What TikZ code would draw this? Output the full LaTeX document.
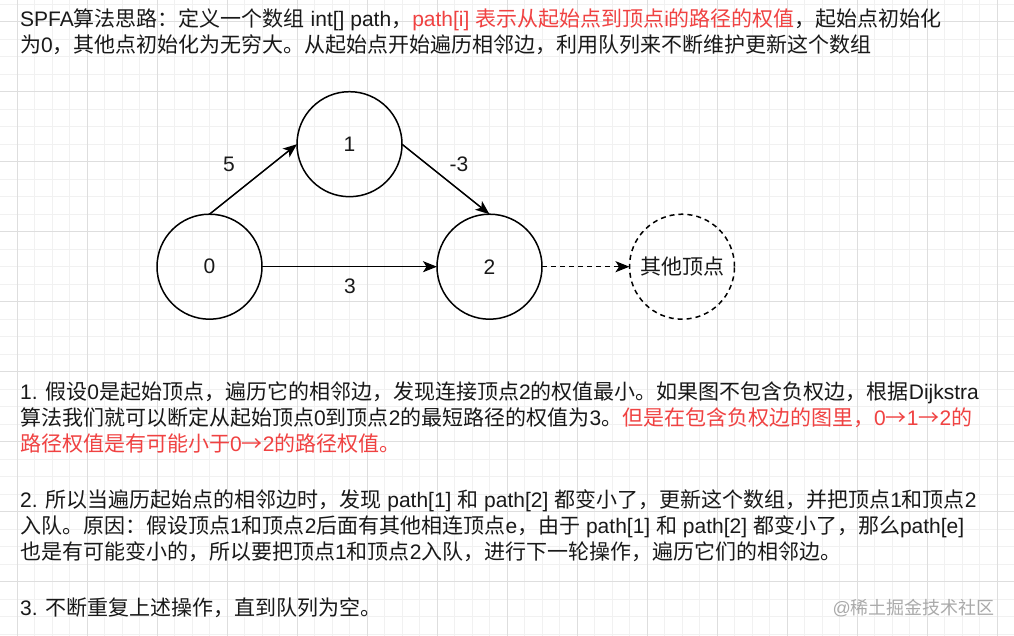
\documentclass[tikz,border=0pt]{standalone}
\usepackage{fontspec}
\setmainfont{Liberation Sans}
\newfontfamily\cjkfont{Noto Sans CJK SC}
\usetikzlibrary{arrows.meta}
\XeTeXinterchartokenstate=1
\newXeTeXintercharclass\mycjk
\newcount\cjkc
\def\setcjkrange#1#2{\cjkc=#1\relax\loop\XeTeXcharclass\cjkc=\mycjk\relax\ifnum\cjkc<#2\relax\advance\cjkc by 1\relax\repeat}
\setcjkrange{"3000}{"303F}
\setcjkrange{"4E00}{"9FFF}
\setcjkrange{"FF00}{"FFEF}
\XeTeXcharclass"2192=\mycjk
\XeTeXinterchartoks 0 \mycjk = {\cjkfont}
\XeTeXinterchartoks 4095 \mycjk = {\cjkfont}
\XeTeXinterchartoks \mycjk 0 = {\rmfamily}
\XeTeXinterchartoks \mycjk 4095 = {\rmfamily}
\definecolor{txtblack}{RGB}{25,25,25}
\definecolor{txtred}{RGB}{240,66,66}
\definecolor{gridminor}{RGB}{241,241,241}
\definecolor{gridmajor}{RGB}{222,222,222}
\definecolor{wmgray}{RGB}{170,170,170}
\begin{document}
\begin{tikzpicture}[x=1pt,y=-1pt,
  txt/.style={font=\fontsize{21pt}{26pt}\selectfont, text=txtblack, inner sep=0pt, anchor=base west},
  vtx/.style={circle, draw=black, line width=1.5pt, minimum size=105pt, inner sep=0pt, outer sep=0pt, font=\fontsize{21pt}{25pt}\selectfont, text=txtblack},
  dvtx/.style={vtx, dash pattern=on 5pt off 4pt},
  edge/.style={line width=1.5pt, draw=black, -{Stealth[length=14pt,width=11pt,inset=3.5pt]}},
  lbl/.style={font=\fontsize{21pt}{25pt}\selectfont, text=txtblack, inner sep=0pt},
  minorline/.style={draw=gridminor, line width=1pt},
  majorline/.style={draw=gridmajor, line width=1pt}]
\useasboundingbox (0,0) rectangle (1014,636);
\fill[white] (0,0) rectangle (1014,636);
% grid
\foreach \i in {0,...,58} { \draw[minorline] ({-0.5+17.5*\i},0) -- ++(0,636); }
\foreach \i in {0,...,36} { \draw[minorline] (0,{4.2+17.5*\i}) -- ++(1014,0); }
\foreach \i in {0,...,14} { \draw[majorline] ({17+70*\i},0) -- ++(0,636); }
\foreach \i in {0,...,9} { \draw[majorline] (0,{21.7+70*\i}) -- ++(1014,0); }
% header text
\node[txt] (t1) at (20,26.5) {SPFA算法思路：定义一个数组 int[] path，{\color{txtred}path[i] 表示从起始点到顶点i的路径的权值}，起始点初始化};
\node[txt] (t2) at (20,52.5) {为0，其他点初始化为无穷大。从起始点开始遍历相邻边，利用队列来不断维护更新这个数组};
% graph
\node[vtx] (n0) at (209.5,266.7) {0};
\node[vtx] (n1) at (349.5,144.2) {1};
\node[vtx] (n2) at (489.5,266.7) {2};
\node[dvtx] (n3) at (682,266.7) {其他顶点};
\draw[edge] (n0.north) -- (n1.west);
\draw[edge] (n1.east) -- (n2.north);
\draw[edge] (n0.east) -- (n2.west);
\draw[edge, dash pattern=on 5pt off 4pt] (n2.east) -- (n3.west);
\node[lbl] (w01) at (229,164) {5};
\node[lbl] (w12) at (459,164) {-3};
\node[lbl] (w02) at (350,286) {3};
% paragraph 1
\node[txt] (p1a) at (20,399) {1. 假设0是起始顶点，遍历它的相邻边，发现连接顶点2的权值最小。如果图不包含负权边，根据Dijkstra};
\node[txt] (p1b) at (20,425) {算法我们就可以断定从起始顶点0到顶点2的最短路径的权值为3。{\color{txtred}但是在包含负权边的图里，0→1→2的}};
\node[txt, text=txtred] (p1c) at (20,451) {路径权值是有可能小于0→2的路径权值。};
% paragraph 2
\node[txt] (p2a) at (20,507) {2. 所以当遍历起始点的相邻边时，发现 path[1] 和 path[2] 都变小了，更新这个数组，并把顶点1和顶点2};
\node[txt] (p2b) at (20,533) {入队。原因：假设顶点1和顶点2后面有其他相连顶点e，由于 path[1] 和 path[2] 都变小了，那么path[e]};
\node[txt] (p2c) at (20,559) {也是有可能变小的，所以要把顶点1和顶点2入队，进行下一轮操作，遍历它们的相邻边。};
% paragraph 3
\node[txt] (p3) at (20,615) {3. 不断重复上述操作，直到队列为空。};
% watermark
\node[font=\fontsize{18pt}{22pt}\selectfont, text=wmgray, inner sep=0pt, anchor=base east] (wm) at (995,614) {@稀土掘金技术社区};
\end{tikzpicture}
\end{document}
